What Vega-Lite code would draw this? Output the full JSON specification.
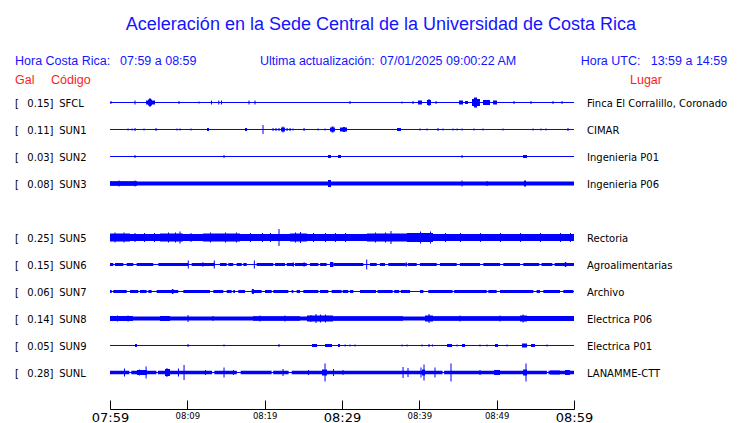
{
"$schema": "https://vega.github.io/schema/vega-lite/v6.json",
"width": 464, "height": 409,
"autosize": {"type": "none"},
"padding": {"left": 110, "top": 0, "right": 166, "bottom": 14},
"background": "white",
"config": {"view": {"stroke": null}},
"datasets": {
"estaciones": [
{"codigo":"SFCL","canal":1,"gal":0.15,"lugar":"Finca El Corralillo, Coronado"},
{"codigo":"SUN1","canal":2,"gal":0.11,"lugar":"CIMAR"},
{"codigo":"SUN2","canal":3,"gal":0.03,"lugar":"Ingenieria P01"},
{"codigo":"SUN3","canal":4,"gal":0.08,"lugar":"Ingenieria P06"},
{"codigo":"SUN5","canal":6,"gal":0.25,"lugar":"Rectoria"},
{"codigo":"SUN6","canal":7,"gal":0.15,"lugar":"Agroalimentarias"},
{"codigo":"SUN7","canal":8,"gal":0.06,"lugar":"Archivo"},
{"codigo":"SUN8","canal":9,"gal":0.14,"lugar":"Electrica P06"},
{"codigo":"SUN9","canal":10,"gal":0.05,"lugar":"Electrica P01"},
{"codigo":"SUNL","canal":11,"gal":0.28,"lugar":"LANAMME-CTT"}
],
"trazas": [
{"e":"SFCL","t":0,"u":60,"a":1},{"e":"SFCL","t":0.06,"u":0.19,"a":3},{"e":"SFCL","t":3.17,"u":3.3,"a":4},{"e":"SFCL","t":4.66,"u":5.82,"a":4},{"e":"SFCL","t":4.91,"u":5.43,"a":6},{"e":"SFCL","t":5.04,"u":5.3,"a":8},{"e":"SFCL","t":8.86,"u":8.99,"a":3},{"e":"SFCL","t":11.45,"u":11.58,"a":2},{"e":"SFCL","t":13.06,"u":13.19,"a":4},{"e":"SFCL","t":14,"u":14.13,"a":4},{"e":"SFCL","t":14.35,"u":14.48,"a":4},{"e":"SFCL","t":17.91,"u":18.04,"a":4},{"e":"SFCL","t":18.69,"u":18.82,"a":4},{"e":"SFCL","t":30.97,"u":31.1,"a":3},{"e":"SFCL","t":37.7,"u":37.83,"a":2},{"e":"SFCL","t":39.12,"u":39.25,"a":3},{"e":"SFCL","t":39.83,"u":40.34,"a":4},{"e":"SFCL","t":40.99,"u":41.51,"a":5},{"e":"SFCL","t":41.12,"u":41.38,"a":6},{"e":"SFCL","t":42.1,"u":42.23,"a":3},{"e":"SFCL","t":45.13,"u":45.65,"a":4},{"e":"SFCL","t":45.91,"u":46.29,"a":3},{"e":"SFCL","t":46.81,"u":47.84,"a":7},{"e":"SFCL","t":47.07,"u":47.46,"a":10},{"e":"SFCL","t":48.23,"u":49.14,"a":5},{"e":"SFCL","t":49.53,"u":50.04,"a":4},{"e":"SFCL","t":52.18,"u":52.31,"a":3},{"e":"SFCL","t":54.38,"u":54.51,"a":3},{"e":"SFCL","t":57.22,"u":57.35,"a":3},{"e":"SFCL","t":58.39,"u":58.52,"a":3},
{"e":"SUN1","t":0,"u":60,"a":1},{"e":"SUN1","t":2.27,"u":2.4,"a":2},{"e":"SUN1","t":2.78,"u":2.91,"a":2},{"e":"SUN1","t":3.17,"u":3.3,"a":3},{"e":"SUN1","t":4.34,"u":4.47,"a":2},{"e":"SUN1","t":5.89,"u":6.02,"a":3},{"e":"SUN1","t":8.6,"u":8.73,"a":2},{"e":"SUN1","t":8.99,"u":9.12,"a":2},{"e":"SUN1","t":10.41,"u":10.54,"a":2},{"e":"SUN1","t":12.54,"u":12.8,"a":3},{"e":"SUN1","t":17.46,"u":17.72,"a":3},{"e":"SUN1","t":19.72,"u":19.85,"a":9},{"e":"SUN1","t":21.02,"u":21.15,"a":3},{"e":"SUN1","t":21.4,"u":21.53,"a":3},{"e":"SUN1","t":21.79,"u":21.92,"a":3},{"e":"SUN1","t":22.11,"u":22.63,"a":4},{"e":"SUN1","t":22.31,"u":22.44,"a":6},{"e":"SUN1","t":22.83,"u":22.96,"a":3},{"e":"SUN1","t":23.22,"u":23.35,"a":3},{"e":"SUN1","t":23.6,"u":23.73,"a":2},{"e":"SUN1","t":25.03,"u":25.16,"a":3},{"e":"SUN1","t":26.84,"u":26.97,"a":2},{"e":"SUN1","t":27.74,"u":27.87,"a":2},{"e":"SUN1","t":28.45,"u":29.09,"a":4},{"e":"SUN1","t":28.65,"u":28.91,"a":6},{"e":"SUN1","t":29.74,"u":30.65,"a":4},{"e":"SUN1","t":30.13,"u":30.39,"a":5},{"e":"SUN1","t":37.11,"u":37.63,"a":3},{"e":"SUN1","t":40.03,"u":40.16,"a":2},{"e":"SUN1","t":40.93,"u":41.06,"a":2},{"e":"SUN1","t":42.35,"u":42.48,"a":3},{"e":"SUN1","t":43,"u":43.13,"a":2},{"e":"SUN1","t":44.29,"u":44.42,"a":2},{"e":"SUN1","t":44.81,"u":44.94,"a":2},{"e":"SUN1","t":45.46,"u":45.59,"a":2},{"e":"SUN1","t":47.01,"u":47.14,"a":2},{"e":"SUN1","t":48.17,"u":48.3,"a":2},{"e":"SUN1","t":50.76,"u":50.89,"a":2},{"e":"SUN1","t":54.64,"u":54.77,"a":2},{"e":"SUN1","t":55.67,"u":55.8,"a":2},{"e":"SUN1","t":56.32,"u":56.45,"a":2},{"e":"SUN1","t":59.16,"u":59.29,"a":3},
{"e":"SUN2","t":0,"u":60,"a":1},{"e":"SUN2","t":3.17,"u":3.3,"a":3},{"e":"SUN2","t":14.68,"u":14.81,"a":3},{"e":"SUN2","t":28.19,"u":28.58,"a":3},{"e":"SUN2","t":29.48,"u":29.87,"a":3},{"e":"SUN2","t":45.46,"u":45.59,"a":3},{"e":"SUN2","t":53.41,"u":53.92,"a":3},
{"e":"SUN3","t":0,"u":60,"a":4},{"e":"SUN3","t":0,"u":3.5,"a":4.5},{"e":"SUN3","t":1.1,"u":1.23,"a":6},{"e":"SUN3","t":3.17,"u":3.3,"a":6},{"e":"SUN3","t":28.19,"u":28.58,"a":7},{"e":"SUN3","t":45.46,"u":45.59,"a":6},{"e":"SUN3","t":48.69,"u":48.82,"a":5},{"e":"SUN3","t":53.53,"u":53.79,"a":6},
{"e":"SUN5","t":0,"u":60,"a":7},{"e":"SUN5","t":0,"u":2.59,"a":8},{"e":"SUN5","t":0.58,"u":0.71,"a":10},{"e":"SUN5","t":1.75,"u":1.88,"a":10},{"e":"SUN5","t":3.17,"u":3.3,"a":9},{"e":"SUN5","t":4.4,"u":4.53,"a":9},{"e":"SUN5","t":5.69,"u":5.82,"a":9},{"e":"SUN5","t":6.47,"u":9.44,"a":8},{"e":"SUN5","t":7.5,"u":7.63,"a":10},{"e":"SUN5","t":8.4,"u":8.53,"a":10},{"e":"SUN5","t":8.99,"u":9.12,"a":12},{"e":"SUN5","t":10.41,"u":10.54,"a":9},{"e":"SUN5","t":12.03,"u":16.81,"a":8},{"e":"SUN5","t":12.93,"u":13.06,"a":10},{"e":"SUN5","t":14.87,"u":15,"a":10},{"e":"SUN5","t":16.29,"u":16.42,"a":10},{"e":"SUN5","t":18.1,"u":18.23,"a":9},{"e":"SUN5","t":19.66,"u":19.79,"a":9},{"e":"SUN5","t":20.69,"u":20.82,"a":9},{"e":"SUN5","t":21.79,"u":21.92,"a":17},{"e":"SUN5","t":23.28,"u":25.47,"a":8},{"e":"SUN5","t":23.92,"u":24.05,"a":10},{"e":"SUN5","t":24.57,"u":24.7,"a":11},{"e":"SUN5","t":26.25,"u":26.38,"a":9},{"e":"SUN5","t":27.8,"u":27.93,"a":9},{"e":"SUN5","t":29.09,"u":29.22,"a":9},{"e":"SUN5","t":30.39,"u":30.52,"a":9},{"e":"SUN5","t":33.23,"u":41.77,"a":8},{"e":"SUN5","t":34.26,"u":34.39,"a":10},{"e":"SUN5","t":35.56,"u":35.69,"a":10},{"e":"SUN5","t":36.27,"u":36.4,"a":13},{"e":"SUN5","t":38.41,"u":41.77,"a":9},{"e":"SUN5","t":40.09,"u":40.22,"a":12},{"e":"SUN5","t":41.38,"u":41.51,"a":12},{"e":"SUN5","t":43.32,"u":43.45,"a":9},{"e":"SUN5","t":45.26,"u":45.39,"a":9},{"e":"SUN5","t":47.84,"u":47.97,"a":9},{"e":"SUN5","t":50.43,"u":50.56,"a":9},{"e":"SUN5","t":53.02,"u":53.15,"a":9},{"e":"SUN5","t":55.6,"u":55.73,"a":9},{"e":"SUN5","t":58.19,"u":58.32,"a":9},{"e":"SUN5","t":59.48,"u":59.61,"a":9},
{"e":"SUN6","t":0,"u":60,"a":1},{"e":"SUN6","t":0,"u":0.43,"a":3},{"e":"SUN6","t":0.65,"u":1.72,"a":3},{"e":"SUN6","t":2.16,"u":3.01,"a":3},{"e":"SUN6","t":3.45,"u":5.6,"a":3},{"e":"SUN6","t":6.25,"u":10.12,"a":3},{"e":"SUN6","t":10.56,"u":13.58,"a":3},{"e":"SUN6","t":14.22,"u":15.09,"a":3},{"e":"SUN6","t":15.3,"u":15.94,"a":3},{"e":"SUN6","t":16.38,"u":17.03,"a":3},{"e":"SUN6","t":17.24,"u":17.68,"a":3},{"e":"SUN6","t":18.97,"u":21.12,"a":3},{"e":"SUN6","t":21.34,"u":22.63,"a":3},{"e":"SUN6","t":22.85,"u":23.7,"a":3},{"e":"SUN6","t":23.92,"u":25.44,"a":3},{"e":"SUN6","t":25.86,"u":26.94,"a":3},{"e":"SUN6","t":27.16,"u":28.02,"a":3},{"e":"SUN6","t":28.45,"u":28.88,"a":5},{"e":"SUN6","t":28.88,"u":32.76,"a":3},{"e":"SUN6","t":33.62,"u":34.49,"a":3},{"e":"SUN6","t":34.91,"u":35.56,"a":3},{"e":"SUN6","t":35.99,"u":38.2,"a":3},{"e":"SUN6","t":38.5,"u":39.66,"a":3},{"e":"SUN6","t":40.09,"u":42.25,"a":3},{"e":"SUN6","t":42.67,"u":44.83,"a":3},{"e":"SUN6","t":45.26,"u":47.84,"a":3},{"e":"SUN6","t":48.27,"u":50.43,"a":3},{"e":"SUN6","t":50.86,"u":53.02,"a":3},{"e":"SUN6","t":53.44,"u":55.5,"a":3},{"e":"SUN6","t":55.8,"u":57.2,"a":3},{"e":"SUN6","t":57.5,"u":60,"a":3},{"e":"SUN6","t":10.06,"u":10.19,"a":8},{"e":"SUN6","t":13.42,"u":13.55,"a":8},{"e":"SUN6","t":18.6,"u":18.73,"a":8},{"e":"SUN6","t":11.9,"u":12.1,"a":4},{"e":"SUN6","t":23.6,"u":23.8,"a":4},{"e":"SUN6","t":25,"u":25.2,"a":4},{"e":"SUN6","t":33.13,"u":33.26,"a":10},{"e":"SUN6","t":38.2,"u":38.4,"a":4},{"e":"SUN6","t":58.8,"u":59,"a":5},
{"e":"SUN7","t":0,"u":60,"a":1},{"e":"SUN7","t":0,"u":0.22,"a":3},{"e":"SUN7","t":0.43,"u":2.16,"a":3},{"e":"SUN7","t":2.59,"u":3.66,"a":3},{"e":"SUN7","t":3.88,"u":4.74,"a":3},{"e":"SUN7","t":4.96,"u":5.39,"a":3},{"e":"SUN7","t":6.03,"u":8.83,"a":3},{"e":"SUN7","t":8,"u":8.2,"a":5},{"e":"SUN7","t":9.48,"u":12.93,"a":3},{"e":"SUN7","t":13.36,"u":14.65,"a":3},{"e":"SUN7","t":15.09,"u":15.73,"a":3},{"e":"SUN7","t":15.94,"u":16.16,"a":3},{"e":"SUN7","t":16.59,"u":17.46,"a":3},{"e":"SUN7","t":18.32,"u":19.61,"a":3},{"e":"SUN7","t":18.35,"u":18.6,"a":5},{"e":"SUN7","t":20.04,"u":20.91,"a":3},{"e":"SUN7","t":21.12,"u":23.06,"a":3},{"e":"SUN7","t":23.49,"u":23.7,"a":3},{"e":"SUN7","t":24.14,"u":24.57,"a":3},{"e":"SUN7","t":25,"u":26.94,"a":3},{"e":"SUN7","t":27.16,"u":28.23,"a":3},{"e":"SUN7","t":28.66,"u":29.96,"a":3},{"e":"SUN7","t":30.1,"u":30.82,"a":3},{"e":"SUN7","t":31.03,"u":31.46,"a":3},{"e":"SUN7","t":32.33,"u":34.4,"a":3},{"e":"SUN7","t":34.6,"u":36.55,"a":3},{"e":"SUN7","t":36.75,"u":37.4,"a":3},{"e":"SUN7","t":37.6,"u":38.79,"a":3},{"e":"SUN7","t":40.09,"u":40.52,"a":3},{"e":"SUN7","t":41.16,"u":44.3,"a":3},{"e":"SUN7","t":44.5,"u":48.71,"a":3},{"e":"SUN7","t":48.92,"u":50,"a":3},{"e":"SUN7","t":50.43,"u":54.74,"a":3},{"e":"SUN7","t":55.17,"u":55.6,"a":3},{"e":"SUN7","t":56.03,"u":58.19,"a":3},{"e":"SUN7","t":58.62,"u":59.91,"a":3},
{"e":"SUN8","t":0,"u":60,"a":4},{"e":"SUN8","t":0,"u":2.97,"a":5},{"e":"SUN8","t":0.9,"u":1.03,"a":6},{"e":"SUN8","t":2.27,"u":2.4,"a":6},{"e":"SUN8","t":6.47,"u":7.76,"a":5},{"e":"SUN8","t":10.03,"u":10.16,"a":7},{"e":"SUN8","t":13.26,"u":13.39,"a":5},{"e":"SUN8","t":18.49,"u":24.57,"a":4.5},{"e":"SUN8","t":19.33,"u":19.46,"a":6},{"e":"SUN8","t":22.57,"u":22.7,"a":6},{"e":"SUN8","t":25.47,"u":28.84,"a":6},{"e":"SUN8","t":26.58,"u":26.71,"a":9},{"e":"SUN8","t":27.16,"u":27.29,"a":8},{"e":"SUN8","t":27.8,"u":27.93,"a":8},{"e":"SUN8","t":25.9,"u":26.03,"a":7},{"e":"SUN8","t":28.84,"u":37.89,"a":4.5},{"e":"SUN8","t":40.73,"u":41.77,"a":6},{"e":"SUN8","t":41.19,"u":41.32,"a":9},{"e":"SUN8","t":41.77,"u":53.02,"a":4.5},{"e":"SUN8","t":45.2,"u":45.33,"a":6},{"e":"SUN8","t":50.37,"u":50.5,"a":6},{"e":"SUN8","t":53.02,"u":53.92,"a":6},{"e":"SUN8","t":53.35,"u":53.48,"a":8},{"e":"SUN8","t":53.92,"u":60,"a":5},
{"e":"SUN9","t":0,"u":60,"a":1},{"e":"SUN9","t":3.23,"u":3.49,"a":3},{"e":"SUN9","t":10.03,"u":10.16,"a":3},{"e":"SUN9","t":14.68,"u":14.81,"a":2},{"e":"SUN9","t":21.79,"u":21.92,"a":3},{"e":"SUN9","t":26.12,"u":26.77,"a":3},{"e":"SUN9","t":27.8,"u":28.71,"a":3},{"e":"SUN9","t":29.48,"u":29.74,"a":3},{"e":"SUN9","t":30.33,"u":30.46,"a":2},{"e":"SUN9","t":30.97,"u":31.1,"a":2},{"e":"SUN9","t":31.62,"u":31.75,"a":2},{"e":"SUN9","t":37.7,"u":37.83,"a":2},{"e":"SUN9","t":38.35,"u":38.48,"a":2},{"e":"SUN9","t":40.28,"u":40.41,"a":2},{"e":"SUN9","t":41.19,"u":41.32,"a":3},{"e":"SUN9","t":41.64,"u":41.77,"a":2},{"e":"SUN9","t":43.58,"u":44.22,"a":3},{"e":"SUN9","t":44.81,"u":44.94,"a":2},{"e":"SUN9","t":45.52,"u":45.91,"a":3},{"e":"SUN9","t":47.78,"u":47.91,"a":2},{"e":"SUN9","t":48.69,"u":48.82,"a":2},{"e":"SUN9","t":49.78,"u":50.17,"a":3},{"e":"SUN9","t":51.28,"u":51.41,"a":2},{"e":"SUN9","t":53.28,"u":53.92,"a":4},{"e":"SUN9","t":54.44,"u":54.96,"a":3},{"e":"SUN9","t":56.45,"u":56.58,"a":2},
{"e":"SUNL","t":0,"u":60,"a":1},{"e":"SUNL","t":0,"u":2.5,"a":3.5},{"e":"SUNL","t":2.75,"u":6,"a":3.5},{"e":"SUNL","t":6.2,"u":13.2,"a":3.5},{"e":"SUNL","t":13.5,"u":16.4,"a":3.5},{"e":"SUNL","t":16.9,"u":20.9,"a":3.5},{"e":"SUNL","t":21.1,"u":23.1,"a":3.5},{"e":"SUNL","t":23.5,"u":43,"a":3.5},{"e":"SUNL","t":43.2,"u":56.5,"a":3.5},{"e":"SUNL","t":56.7,"u":60,"a":3.5},
{"e":"SUNL","t":1.81,"u":1.94,"a":8},{"e":"SUNL","t":3.74,"u":3.87,"a":6},{"e":"SUNL","t":3.49,"u":4.78,"a":5},{"e":"SUNL","t":4.6,"u":4.73,"a":12},{"e":"SUNL","t":7.11,"u":7.76,"a":7},{"e":"SUNL","t":7.3,"u":7.43,"a":9},{"e":"SUNL","t":8.79,"u":8.92,"a":8},{"e":"SUNL","t":9.51,"u":9.64,"a":15},{"e":"SUNL","t":12.28,"u":12.41,"a":5},{"e":"SUNL","t":14.68,"u":14.81,"a":10},{"e":"SUNL","t":15.9,"u":16.03,"a":5},{"e":"SUNL","t":22.31,"u":22.44,"a":7},{"e":"SUNL","t":25.6,"u":25.73,"a":5},{"e":"SUNL","t":27.41,"u":28.06,"a":6},{"e":"SUNL","t":27.74,"u":27.87,"a":18},{"e":"SUNL","t":28.84,"u":28.97,"a":7},{"e":"SUNL","t":30.07,"u":30.2,"a":5},{"e":"SUNL","t":37.83,"u":37.96,"a":11},{"e":"SUNL","t":38.47,"u":38.6,"a":9},{"e":"SUNL","t":40.34,"u":40.73,"a":6},{"e":"SUNL","t":40.15,"u":40.28,"a":10},{"e":"SUNL","t":40.54,"u":40.67,"a":16},{"e":"SUNL","t":41.96,"u":42.09,"a":10},{"e":"SUNL","t":44.03,"u":44.16,"a":18},{"e":"SUNL","t":47.78,"u":47.91,"a":5},{"e":"SUNL","t":49.66,"u":50.43,"a":5},{"e":"SUNL","t":53.41,"u":53.92,"a":6},{"e":"SUNL","t":53.73,"u":53.86,"a":18},{"e":"SUNL","t":56.9,"u":58.19,"a":4},{"e":"SUNL","t":58.84,"u":59.48,"a":5}
]
},
"layer": [
{
"data": {"name": "trazas"},
"transform": [{"lookup": "e", "from": {"data": {"name": "estaciones"}, "key": "codigo", "fields": ["canal"]}}],
"mark": {"type": "rule", "color": "#0000ff"},
"encoding": {
"x": {"field": "t", "type": "quantitative",
"scale": {"domain": [0, 60], "nice": false, "zero": false},
"axis": {"values": [0,5,10,15,20,25,30,35,40,45,50,55,60], "title": null, "grid": false,
"tickSize": -9, "tickWidth": 1, "tickColor": "black", "domainColor": "black", "domainWidth": 1,
"labelColor": "black", "labelFont": "DejaVu Sans",
"labelFontSize": {"condition": {"test": "datum.value % 30 == 0", "value": 13}, "value": 8.5},
"labelPadding": 11, "labelFlush": false, "labelOverlap": false, "labelBound": false,
"labelExpr": "datum.value % 10 == 0 ? ['07:59','08:09','08:19','08:29','08:39','08:49','08:59'][datum.value / 10] : ''"}},
"x2": {"field": "u"},
"y": {"field": "canal", "type": "quantitative",
"scale": {"domain": [-2.7963, 12.3519], "reverse": true, "nice": false, "zero": false}, "axis": null},
"strokeWidth": {"field": "a", "type": "quantitative", "scale": {"type": "linear", "domain": [0, 20], "range": [0, 20]}, "legend": null}
}
},
{
"data": {"name": "estaciones"},
"mark": {"type": "text", "align": "left", "baseline": "middle", "dy": 1.5, "font": "DejaVu Sans", "fontSize": 10, "color": "black"},
"encoding": {"x": {"datum": -12.284}, "y": {"field": "canal", "type": "quantitative"}, "text": {"value": "["}}
},
{
"data": {"name": "estaciones"},
"mark": {"type": "text", "align": "right", "baseline": "middle", "dy": 1.5, "font": "DejaVu Sans", "fontSize": 10, "color": "black"},
"encoding": {"x": {"datum": -7.81}, "y": {"field": "canal", "type": "quantitative"}, "text": {"field": "gal", "type": "quantitative", "format": ".2f"}}
},
{
"data": {"name": "estaciones"},
"mark": {"type": "text", "align": "left", "baseline": "middle", "dy": 1.5, "font": "DejaVu Sans", "fontSize": 10, "color": "black"},
"encoding": {"x": {"datum": -7.81}, "y": {"field": "canal", "type": "quantitative"}, "text": {"value": "]"}}
},
{
"data": {"name": "estaciones"},
"mark": {"type": "text", "align": "left", "baseline": "middle", "dy": 1.5, "font": "DejaVu Sans", "fontSize": 10, "color": "black"},
"encoding": {"x": {"datum": -6.569}, "y": {"field": "canal", "type": "quantitative"}, "text": {"field": "codigo"}}
},
{
"data": {"name": "estaciones"},
"mark": {"type": "text", "align": "left", "baseline": "middle", "dy": 1.5, "font": "DejaVu Sans", "fontSize": 10, "color": "black"},
"encoding": {"x": {"datum": 61.681}, "y": {"field": "canal", "type": "quantitative"}, "text": {"field": "lugar"}}
},
{
"data": {"values": [{}]},
"mark": {"type": "text", "align": "center", "baseline": "alphabetic", "font": "Liberation Sans", "fontSize": 18, "color": "#1414ff"},
"encoding": {"x": {"datum": 35.04}, "y": {"datum": -1.6852}, "text": {"value": "Aceleración en la Sede Central de la Universidad de Costa Rica"}}
},
{
"data": {"values": [{}]},
"mark": {"type": "text", "align": "left", "baseline": "alphabetic", "font": "Liberation Sans", "fontSize": 12.5, "color": "#1414ff"},
"encoding": {"x": {"datum": -12.284}, "y": {"datum": -0.3889}, "text": {"value": "Hora Costa Rica:"}}
},
{
"data": {"values": [{}]},
"mark": {"type": "text", "align": "left", "baseline": "alphabetic", "font": "Liberation Sans", "fontSize": 12.5, "color": "#1414ff"},
"encoding": {"x": {"datum": 1.293}, "y": {"datum": -0.3889}, "text": {"value": "07:59 a 08:59"}}
},
{
"data": {"values": [{}]},
"mark": {"type": "text", "align": "left", "baseline": "alphabetic", "font": "Liberation Sans", "fontSize": 12.5, "color": "#1414ff"},
"encoding": {"x": {"datum": 19.397}, "y": {"datum": -0.3889}, "text": {"value": "Ultima actualización:"}}
},
{
"data": {"values": [{}]},
"mark": {"type": "text", "align": "left", "baseline": "alphabetic", "font": "Liberation Sans", "fontSize": 12.5, "color": "#1414ff"},
"encoding": {"x": {"datum": 34.914}, "y": {"datum": -0.3889}, "text": {"value": "07/01/2025 09:00:22 AM"}}
},
{
"data": {"values": [{}]},
"mark": {"type": "text", "align": "left", "baseline": "alphabetic", "font": "Liberation Sans", "fontSize": 12.5, "color": "#1414ff"},
"encoding": {"x": {"datum": 60.866}, "y": {"datum": -0.3889}, "text": {"value": "Hora UTC:"}}
},
{
"data": {"values": [{}]},
"mark": {"type": "text", "align": "left", "baseline": "alphabetic", "font": "Liberation Sans", "fontSize": 12.5, "color": "#1414ff"},
"encoding": {"x": {"datum": 69.918}, "y": {"datum": -0.3889}, "text": {"value": "13:59 a 14:59"}}
},
{
"data": {"values": [{}]},
"mark": {"type": "text", "align": "left", "baseline": "alphabetic", "font": "Liberation Sans", "fontSize": 12.5, "color": "#ff1a1a"},
"encoding": {"x": {"datum": -12.284}, "y": {"datum": 0.3259}, "text": {"value": "Gal"}}
},
{
"data": {"values": [{}]},
"mark": {"type": "text", "align": "left", "baseline": "alphabetic", "font": "Liberation Sans", "fontSize": 12.5, "color": "#ff1a1a"},
"encoding": {"x": {"datum": -7.629}, "y": {"datum": 0.3259}, "text": {"value": "Código"}}
},
{
"data": {"values": [{}]},
"mark": {"type": "text", "align": "left", "baseline": "alphabetic", "font": "Liberation Sans", "fontSize": 12.5, "color": "#ff1a1a"},
"encoding": {"x": {"datum": 67.241}, "y": {"datum": 0.3259}, "text": {"value": "Lugar"}}
}
]
}
